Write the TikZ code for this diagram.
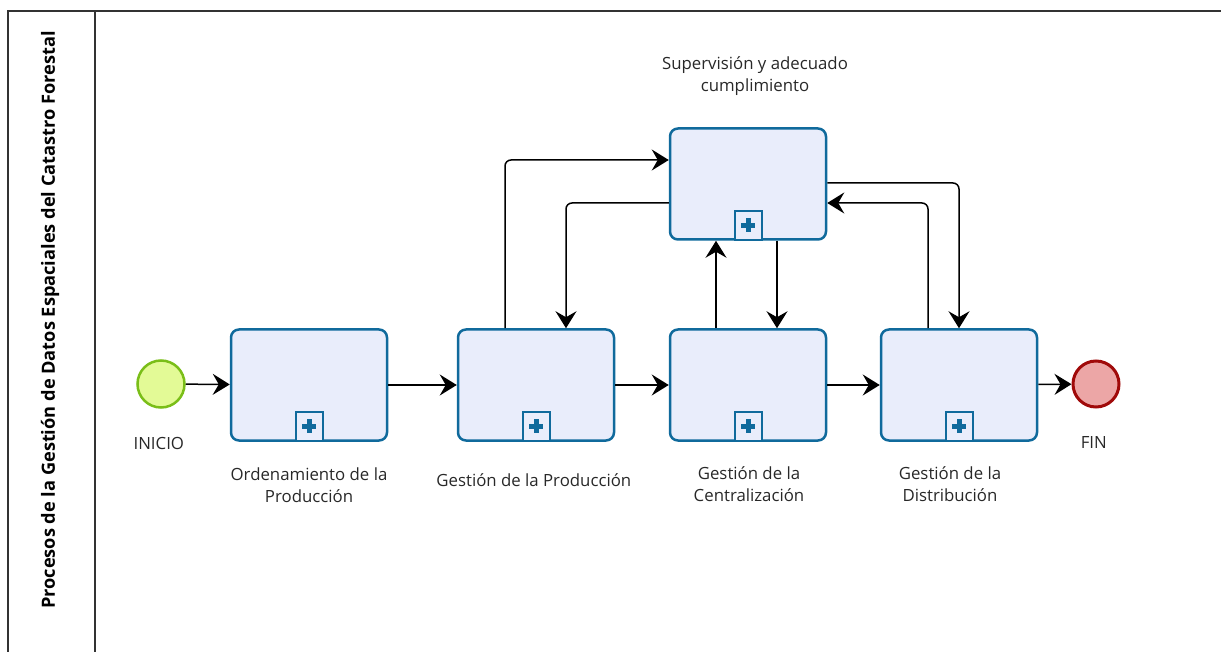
\documentclass[tikz,border=0pt]{standalone}
\usepackage{fontspec}
\setmainfont{Open Sans}
\usetikzlibrary{arrows.meta}
\definecolor{bpmnblue}{RGB}{16,106,156}
\definecolor{bpmnfill}{RGB}{233,237,251}
\definecolor{startfill}{RGB}{227,250,150}
\definecolor{startline}{RGB}{122,190,24}
\definecolor{endfill}{RGB}{236,166,166}
\definecolor{endline}{RGB}{160,10,10}
\definecolor{textgray}{RGB}{40,40,40}

\begin{document}
\begin{tikzpicture}[x=1pt, y=-1pt]
  \tikzstyle{mytask}=[draw=bpmnblue, fill=bpmnfill, line width=2.5pt,
    rounded corners=8pt, minimum width=156pt, minimum height=111pt,
    inner sep=0pt];
  \tikzstyle{mytext}=[draw=none, text=textgray, align=center,
    font=\fontsize{16.8}{22}\selectfont];
  \tikzstyle{myconn}=[line width=1.5pt, -{Stealth[length=17pt, width=21pt, inset=6pt]},
    rounded corners=6pt];
  \tikzstyle{mysub}=[draw=bpmnblue, fill=bpmnfill, line width=2pt,
    minimum width=27pt, minimum height=29pt, inner sep=0pt];
  %
  \useasboundingbox (0, 0) rectangle (1221, 652);
  %
  % pool
  \draw[line width=1.6pt, black!80] (8, 652) -- (8, 11) -- (1221, 11);
  \draw[line width=1.6pt, black!80] (95, 11) -- (95, 652);
  \node[rotate=90, font=\fontsize{18.2}{22}\selectfont\bfseries] (pool) at (50, 320)
  { Procesos de la Gestión de Datos Espaciales del Catastro Forestal };
  %
  % events
  \node[circle, draw=startline, fill=startfill, line width=2.5pt,
  minimum size=47pt] (inicio) at (161, 384) {};
  \node[circle, draw=endline, fill=endfill, line width=3pt,
  minimum size=46pt] (fin) at (1096, 384) {};
  \node[mytext] (inicioL) at (161, 443) { INICIO };
  \node[mytext] (finL) at (1096, 443) { FIN };
  %
  % tasks
  \node[mytask] (orden) at (309, 385) {};
  \node[mytask] (prod) at (536, 385) {};
  \node[mytask] (centr) at (748, 385) {};
  \node[mytask] (distr) at (959, 385) {};
  \node[mytask] (super) at (748, 184) {};
  %
  \foreach \t in {orden, prod, centr, distr, super} {
    \node[mysub, anchor=south] (\t S) at (\t.south) {};
    \fill[bpmnblue] ([xshift=-7pt, yshift=-2.5pt]\t S.center)
    rectangle ([xshift=7pt, yshift=2.5pt]\t S.center);
    \fill[bpmnblue] ([xshift=-2.5pt, yshift=-7pt]\t S.center)
    rectangle ([xshift=2.5pt, yshift=7pt]\t S.center);
  }
  %
  \node[mytext] (ordenL) at (309, 485) { Ordenamiento de la\\Producción };
  \node[mytext] (prodL) at (536, 480) { Gestión de la Producción };
  \node[mytext] (centrL) at (749, 484) { Gestión de la\\Centralización };
  \node[mytext] (distrL) at (950, 484) { Gestión de la\\Distribución };
  \node[mytext] (superL) at (755, 76) { Supervisión y adecuado\\cumplimiento };
  %
  % sequence flows
  \draw[myconn] (inicio) -- (orden);
  \draw[myconn] (orden) -- (prod);
  \draw[myconn] (prod) -- (centr);
  \draw[myconn] (centr) -- (distr);
  \draw[myconn] (distr) -- (fin);
  %
  \draw[myconn] ([xshift=-31pt]prod.north) |- ([yshift=24pt]super.west);
  \draw[myconn] ([yshift=-19pt]super.west) -| ([xshift=30pt]prod.north);
  \draw[myconn] ([xshift=-32pt]centr.north) -- ([xshift=-32pt]super.south);
  \draw[myconn] ([xshift=29pt]super.south) -- ([xshift=29pt]centr.north);
  \draw[myconn] ([yshift=1pt]super.east) -| (distr.north);
  \draw[myconn] ([xshift=-31pt]distr.north) |- ([yshift=-19pt]super.east);
\end{tikzpicture}
\end{document}
